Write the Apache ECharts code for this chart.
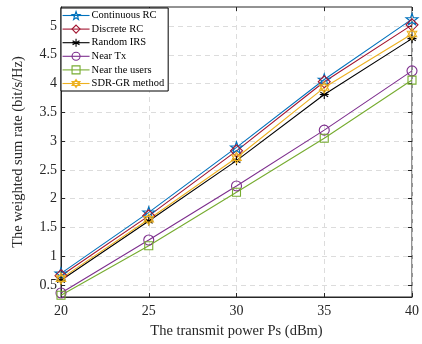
<!DOCTYPE html>
<html><head><meta charset="utf-8">
<script src="https://cdn.jsdelivr.net/npm/echarts@6/dist/echarts.min.js"></script>
<style>html,body{margin:0;padding:0;background:#fff}#c{width:422px;height:344px}</style>
</head><body><div id="c"></div>
<script>
const power = [20, 25, 30, 35, 40];
const continuousRC = [0.70, 1.76, 2.89, 4.07, 5.12];
const discreteRC = [0.66, 1.70, 2.83, 4.03, 5.02];
const randomIRS = [0.58, 1.61, 2.66, 3.81, 4.78];
const nearTx = [0.36, 1.28, 2.22, 3.19, 4.22];
const nearUsers = [0.32, 1.18, 2.11, 3.05, 4.06];
const sdrGR = [0.61, 1.64, 2.71, 3.93, 4.86];
const yTicks = [0.5, 1, 1.5, 2, 2.5, 3, 3.5, 4, 4.5, 5];
const names = ['Continuous RC', 'Discrete RC', 'Random IRS', 'Near Tx', 'Near the users', 'SDR-GR method'];

const STAR = 'path://M0,-10 L2.35,-3.24 L9.51,-3.09 L3.8,1.24 L5.88,8.09 L0,4 L-5.88,8.09 L-3.8,1.24 L-9.51,-3.09 L-2.35,-3.24 Z';
const HEX = 'path://M0,-10 L8.66,5 L-8.66,5 Z M0,10 L8.66,-5 L-8.66,-5 Z';
const AST = 'path://M0,-10 L0,10 M-8.66,-5 L8.66,5 M-8.66,5 L8.66,-5 M-10,0 L10,0';

const font = 'Liberation Serif';
const axisCol = '#262626';
function mk(name, data, color, symbol, size) {
  return {
    name, type: 'line', data: power.map((p, i) => [p, data[i]]),
    symbol, symbolSize: size, symbolKeepAspect: true,
    lineStyle: { color, width: 1.1 },
    itemStyle: { color: 'rgba(0,0,0,0)', borderColor: color, borderWidth: 1.1 },
    emphasis: { disabled: true }, animation: false, z: 3
  };
}
const series = [
  mk(names[0], continuousRC, '#0072BD', STAR, 12),
  mk(names[1], discreteRC, '#A2142F', 'diamond', 12),
  mk(names[2], randomIRS, '#000000', AST, 9),
  mk(names[3], nearTx, '#7E2F8E', 'circle', 10),
  mk(names[4], nearUsers, '#77AC30', 'rect', 8),
  mk(names[5], sdrGR, '#EDB120', HEX, 11)
];
const chart = echarts.init(document.getElementById('c'), null, { renderer: 'canvas' });
const grid = { left: 61, right: 5, top: 7, bottom: 45, show: true, borderColor: axisCol, borderWidth: 1, backgroundColor: '#fff' };
chart.setOption({
  animation: false,
  grid,
  legend: {
    orient: 'vertical', left: 61, top: 8, data: names,
    itemWidth: 27, itemHeight: 10, itemGap: 2.6,
    itemStyle: { color: 'rgba(0,0,0,0)', borderWidth: 1.1 },
    lineStyle: { width: 1.1 },
    textStyle: { fontFamily: font, fontSize: 10.5, color: '#000', padding: [0, 0, 0, -3] },
    backgroundColor: '#fff', borderColor: '#000', borderWidth: 1, padding: [2, 4, 2, 1],
    selectedMode: false
  },
  xAxis: [{
    type: 'value', min: 20, max: 40, interval: 5,
    name: 'The transmit power Ps (dBm)', nameLocation: 'middle', nameGap: 27,
    nameTextStyle: { fontFamily: font, fontSize: 14.5, color: axisCol },
    axisLine: { lineStyle: { color: axisCol } },
    axisTick: { inside: true, length: 4, lineStyle: { color: axisCol } },
    axisLabel: { fontFamily: font, fontSize: 14, color: axisCol, margin: 7 },
    splitLine: { show: true, lineStyle: { color: '#dcdcdc', type: [5, 4], width: 1 } }
  }, {
    type: 'value', min: 20, max: 40, interval: 5, position: 'top',
    axisLine: { show: false }, axisTick: { inside: true, length: 4, lineStyle: { color: axisCol } },
    axisLabel: { show: false }, splitLine: { show: false }
  }],
  yAxis: [{
    type: 'value', min: 0.29, max: 5.33,
    name: 'The weighted sum rate (bit/s/Hz)', nameLocation: 'middle', nameGap: 35,
    nameTextStyle: { fontFamily: font, fontSize: 14.5, color: axisCol },
    axisLine: { show: true, lineStyle: { color: axisCol } },
    axisTick: { inside: true, length: 4, customValues: yTicks, lineStyle: { color: axisCol } },
    axisLabel: { fontFamily: font, fontSize: 14, color: axisCol, margin: 4, customValues: yTicks },
    splitLine: { show: true, lineStyle: { color: '#dcdcdc', type: [5, 4], width: 1 } }
  }, {
    type: 'value', min: 0.29, max: 5.33, position: 'right',
    axisLine: { show: false },
    axisTick: { show: true, inside: true, length: 4, customValues: yTicks, lineStyle: { color: axisCol } },
    axisLabel: { show: false, customValues: yTicks }, splitLine: { show: false }
  }],
  series
});
</script></body></html>
